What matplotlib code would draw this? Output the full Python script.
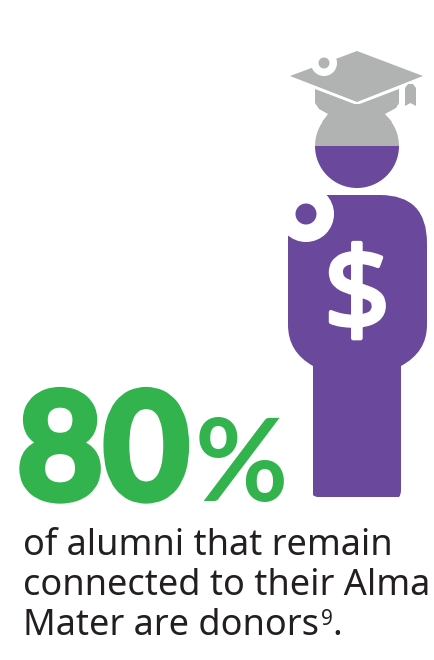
import matplotlib
matplotlib.use('Agg')
import matplotlib.pyplot as plt
import matplotlib.patheffects as pe
from matplotlib.patches import Circle, Polygon, PathPatch, Wedge
from matplotlib.path import Path

# text of the graphic
big_number = '80'
big_sign = '%'
caption = ['of alumni that remain', 'connected to their Alma', 'Mater are donors']
footnote = '9'

GREEN = '#32b34e'
PURPLE = '#6a489b'
GREY = '#b1b3b3'
DARK = '#231f20'

fig = plt.figure(figsize=(4.34, 6.6), dpi=100)
ax = fig.add_axes([0, 0, 1, 1])
ax.set_xlim(0, 434)
ax.set_ylim(660, 0)
ax.set_aspect('equal')
ax.axis('off')

# body
body = Path(
    [(320, 195), (380, 195), (427, 195), (427, 243), (427, 325), (427, 352), (401, 366),
     (401, 490), (401, 495), (399, 497), (396, 497), (318, 497), (315, 497), (313, 495), (313, 490),
     (313, 366), (288, 352), (288, 325), (288, 235), (320, 195)],
    [Path.MOVETO, Path.LINETO, Path.CURVE3, Path.CURVE3, Path.LINETO, Path.CURVE3, Path.CURVE3,
     Path.LINETO, Path.CURVE3, Path.CURVE3, Path.LINETO, Path.LINETO, Path.CURVE3, Path.CURVE3, Path.LINETO,
     Path.LINETO, Path.CURVE3, Path.CURVE3, Path.LINETO, Path.CLOSEPOLY])
ax.add_patch(PathPatch(body, fc=PURPLE, ec='none'))
ax.add_patch(Circle((306, 214), 28, fc='white', ec='none'))
ax.add_patch(Circle((306, 214), 10.5, fc=PURPLE, ec='none'))
ax.text(357, 301, '$', color='white', fontsize=84, family='Noto Sans', weight='bold', ha='center', va='center',
        path_effects=[pe.withStroke(linewidth=3, foreground='white')])

# head
ax.add_patch(Wedge((357, 146), 42, 0, 180, fc=PURPLE, ec='none'))
ax.add_patch(Wedge((357, 146), 42, 180, 360, fc=GREY, ec='none'))

# cap
ax.add_patch(Polygon([(315, 89), (357, 105), (399, 89), (399, 103), (396, 108), (385, 114), (392, 122),
                      (322, 122), (328, 114), (319, 109), (315, 103)], fc=GREY, ec='none'))
ax.add_patch(Polygon([(290, 76), (357, 51), (423, 76), (357, 102)], fc=GREY, ec='none'))
ax.add_patch(Circle((324, 63), 13, fc='white', ec='none'))
ax.add_patch(Circle((324, 63), 5.5, fc=GREY, ec='none'))
ax.add_patch(Polygon([(405, 88), (408, 84), (413, 84), (416, 88), (416, 106), (410.5, 103), (405, 106)],
                     fc=GREY, ec='none'))

# big figure, stroked because the heavy cut is not available
ax.text(17, 499, big_number, color=GREEN, fontsize=107, family='Lato', weight='bold', ha='left', va='baseline',
        path_effects=[pe.withStroke(linewidth=5, foreground=GREEN)])
ax.text(195, 501, big_sign, color=GREEN, fontsize=82, family='Lato', weight='bold', ha='left', va='baseline')

# caption
baselines = [555, 595, 635]
for line, y in zip(caption, baselines):
    t = ax.text(23, y, line, color=DARK, fontsize=26, family='Noto Sans', ha='left', va='baseline')
fig.canvas.draw()
ext = t.get_window_extent().transformed(ax.transData.inverted())
ax.text(ext.x1 + 2, 625, footnote, color=DARK, fontsize=15, family='Noto Sans', ha='left', va='baseline')
ax.text(ext.x1 + 13, 635, '.', color=DARK, fontsize=26, family='Noto Sans', ha='left', va='baseline')

fig.savefig('out.png', dpi=100, facecolor='white')
